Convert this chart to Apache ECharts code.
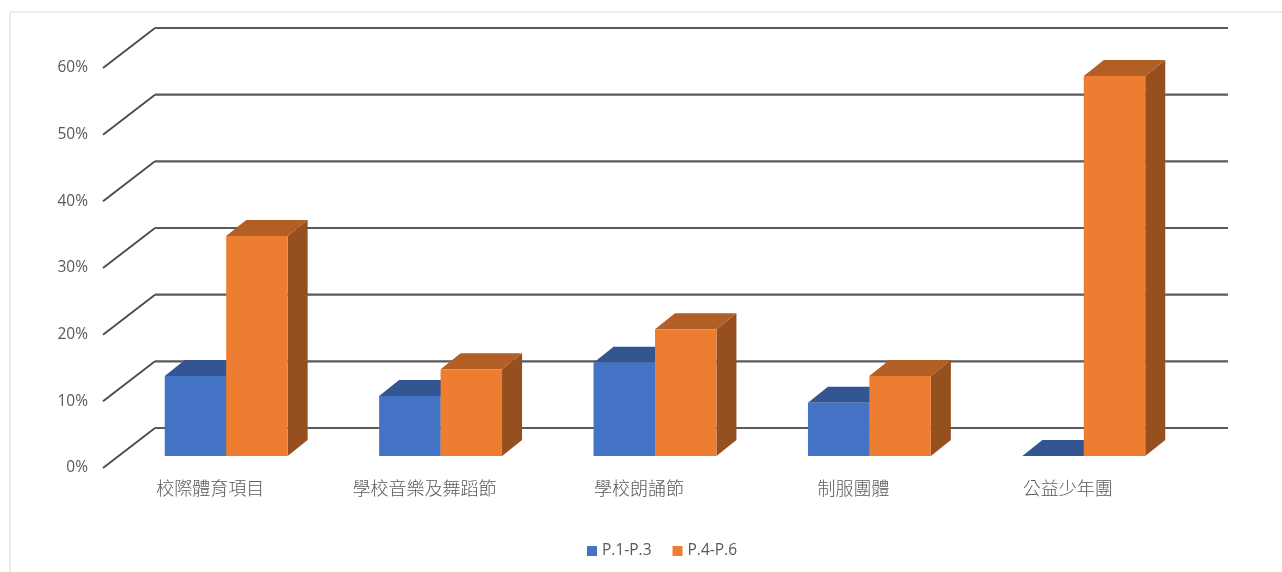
<!DOCTYPE html>
<html>
<head>
<meta charset="utf-8">
<style>html,body{margin:0;padding:0;background:#fff}#c{width:1282px;height:572px}</style>
<script src="https://cdn.jsdelivr.net/npm/echarts@6/dist/echarts.min.js"></script>
</head>
<body>
<div id="c"></div>
<script>
const categories = ['校際體育項目','學校音樂及舞蹈節','學校朗誦節','制服團體','公益少年團'];
const p13 = [12, 9, 14, 8, 0];
const p46 = [33, 13, 19, 12, 57];
const yTicks = [0, 10, 20, 30, 40, 50, 60];

const WALL = [52, -40];      // depth of the side wall
const BAR_OFF = [16, -12];   // front face of bars relative to the front plane
const BAR_DEPTH = [20, -16]; // bar depth
const BAR_FRAC = 0.2866;     // one bar's width as a share of the category band

function poly(points, fill) {
  return { type: 'polygon', shape: { points }, style: { fill, stroke: null } };
}
function barRenderer(sign, cFront, cTop, cSide) {
  return function (params, api) {
    const p = api.coord([api.value(0), api.value(1)]);
    const b = api.coord([api.value(0), 0]);
    const w = api.size([1, 0])[0] * BAR_FRAC;
    const xc = p[0] + BAR_OFF[0];
    const x0 = sign < 0 ? xc - w : xc;
    const x1 = x0 + w;
    const yt = p[1] + BAR_OFF[1];
    const yb = b[1] + BAR_OFF[1];
    const dx = BAR_DEPTH[0], dy = BAR_DEPTH[1];
    return {
      type: 'group',
      children: [
        poly([[x1, yb], [x1 + dx, yb + dy], [x1 + dx, yt + dy], [x1, yt]], cSide),
        poly([[x0, yt], [x0 + dx, yt + dy], [x1 + dx, yt + dy], [x1, yt]], cTop),
        poly([[x0, yb], [x1, yb], [x1, yt], [x0, yt]], cFront)
      ]
    };
  };
}
function gridRenderer(params, api) {
  const y = api.coord([0, api.value(1)])[1];
  const cs = params.coordSys;
  const xL = cs.x, xR = cs.x + cs.width;
  const bx = xL + WALL[0], by = y + WALL[1];
  return {
    type: 'group',
    children: [
      { type: 'line', shape: { x1: xL, y1: y, x2: bx, y2: by }, style: { stroke: '#4a4a4a', lineWidth: 1.8 } },
      { type: 'line', shape: { x1: bx, y1: by, x2: 1228, y2: by }, style: { stroke: '#5a5a5a', lineWidth: 2.2 } }
    ]
  };
}

const chart = echarts.init(document.getElementById('c'), null, { renderer: 'canvas' });
chart.setOption({
  animation: false,
  backgroundColor: '#ffffff',
  textStyle: { fontFamily: '"Open Sans","Noto Sans CJK TC",sans-serif' },
  graphic: [
    { type: 'line', silent: true, shape: { x1: 10, y1: 12, x2: 10, y2: 572 }, style: { stroke: '#d9d9d9', lineWidth: 1 } },
    { type: 'line', silent: true, shape: { x1: 10, y1: 12, x2: 1282, y2: 12 }, style: { stroke: '#d9d9d9', lineWidth: 1 } }
  ],
  grid: { left: 103, right: 107, top: 68, bottom: 104 },
  legend: {
    data: ['P.1-P.3', 'P.4-P.6'],
    left: 582, top: 538,
    itemWidth: 10, itemHeight: 10, itemGap: 21,
    icon: 'rect',
    textStyle: { color: '#595959', fontSize: 15.5, fontFamily: '"Open Sans",sans-serif' }
  },
  xAxis: {
    type: 'category',
    data: categories,
    axisLine: { show: false }, axisTick: { show: false }, splitLine: { show: false },
    axisLabel: { color: '#595959', fontSize: 18, margin: 11.5, fontFamily: '"Noto Sans CJK TC",sans-serif', fontWeight: 300 }
  },
  yAxis: {
    type: 'value', min: 0, max: 60, interval: 10,
    axisLine: { show: false }, axisTick: { show: false }, splitLine: { show: false },
    axisLabel: { color: '#595959', fontSize: 15.5, margin: 15, formatter: '{value}%', padding: [0, 0, 6, 0], fontFamily: '"Open Sans",sans-serif' }
  },
  series: [
    { name: 'grid', type: 'custom', silent: true, clip: false, z: 1, renderItem: gridRenderer,
      encode: { x: 0, y: 1 }, data: yTicks.map(v => [0, v]) },
    { name: 'P.1-P.3', type: 'custom', clip: false, z: 2, itemStyle: { color: '#4472C4' },
      renderItem: barRenderer(-1, '#4472C4', '#335693', '#2A4778'),
      encode: { x: 0, y: 1 }, data: p13.map((v, i) => [i, v]) },
    { name: 'P.4-P.6', type: 'custom', clip: false, z: 3, itemStyle: { color: '#ED7D31' },
      renderItem: barRenderer(1, '#ED7D31', '#B25E25', '#964F1E'),
      encode: { x: 0, y: 1 }, data: p46.map((v, i) => [i, v]) }
  ]
});
</script>
</body>
</html>
